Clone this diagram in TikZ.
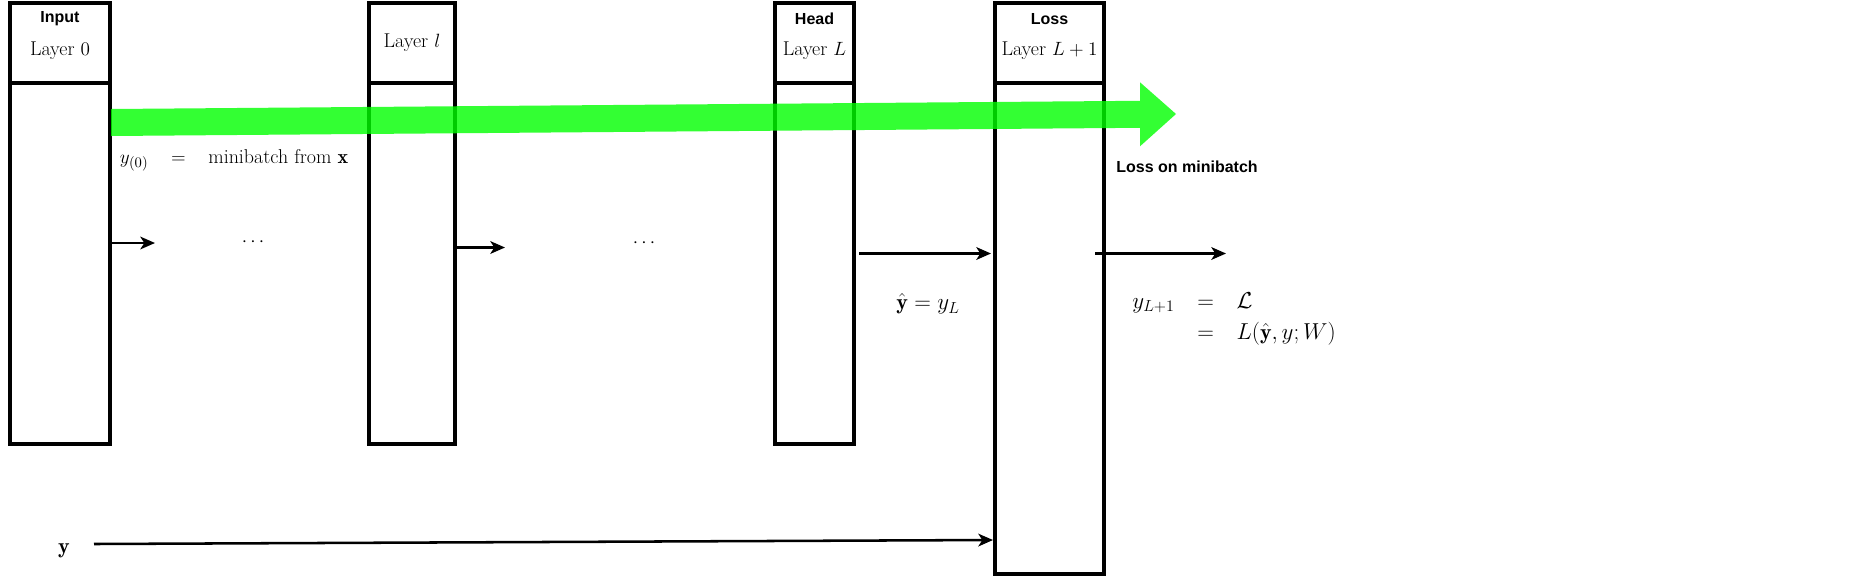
\documentclass[tikz,border=0pt]{standalone}
\usepackage{fontspec}
\newfontfamily\tagfont{Liberation Sans}
\usepackage{xcolor}
\usepackage{tikz}
\usetikzlibrary{positioning, arrows.meta, calc}

\begin{document}
\begin{tikzpicture}[x=0.75pt, y=-0.75pt,
		hdr/.style={rectangle, draw, line width=2.4pt, outer sep=0pt, inner sep=0pt, minimum height=60pt},
		bodybox/.style={rectangle, draw, line width=2.4pt, outer sep=0pt, inner sep=0pt},
		tag/.style={font=\tagfont\bfseries\fontsize{12}{14}\selectfont, inner sep=0pt},
		lyr/.style={font=\fontsize{15}{18}\selectfont, inner sep=0pt},
		mth/.style={font=\fontsize{16.5}{20}\selectfont, inner sep=0pt},
		flow/.style={line width=1.9pt, -{Stealth[length=11pt, width=9.5pt, inset=3pt]}}]
		\useasboundingbox (0,0) rectangle (1866,579);
		\setlength{\arraycolsep}{8.5pt}
		
		% layers
		\node[hdr, minimum width=75pt] (inh) at (60,43) {};
		\node[bodybox, minimum width=75pt, minimum height=270.75pt, below=0pt of inh] (inb) {};
		\node[hdr, minimum width=64.5pt] (lh) at (412,43) {};
		\node[bodybox, minimum width=64.5pt, minimum height=270.75pt, below=0pt of lh] (lb) {};
		\node[hdr, minimum width=59.25pt] (headh) at (814.5,43) {};
		\node[bodybox, minimum width=59.25pt, minimum height=270.75pt, below=0pt of headh] (headb) {};
		\node[hdr, minimum width=81.75pt] (lossh) at (1049.5,43) {};
		\node[bodybox, minimum width=81.75pt, minimum height=368.25pt, below=0pt of lossh] (lossb) {};
		
		\node[tag] (intag) at ($(inh.north)+(0,16)$) {Input};
		\node[lyr] (inlbl) at ($(inh.center)+(0,8)$) {Layer $0$};
		\node[lyr] (llbl) at (lh.center) {Layer $l$};
		\node[tag] (headtag) at ($(headh.north)+(0,16)$) {Head};
		\node[lyr] (headlbl) at ($(headh.center)+(0,8)$) {Layer $L$};
		\node[tag] (losstag) at ($(lossh.north)+(0,16)$) {Loss};
		\node[lyr] (losslbl) at ($(lossh.center)+(0,8)$) {Layer $L+1$};
		
		% forward pass
		\coordinate (gtail) at (111,122.5);
		\coordinate (gbase) at (1140,114.3);
		\coordinate (gtip) at (1176,114);
		\fill[green, fill opacity=0.8] ($(gtail)+(0,-13.5)$) -- ($(gbase)+(0,-13.5)$) -- ($(gbase)+(0,-32)$) -- (gtip) -- ($(gbase)+(0,32)$) -- ($(gbase)+(0,13.5)$) -- ($(gtail)+(0,13.5)$) -- cycle;
		\node[tag] (minib) at (1187,167) {Loss on minibatch};
		
		\coordinate (a0) at (155,243);
		\coordinate (a1) at (505,247.5);
		\coordinate (a2) at (859,253.5);
		\coordinate (a3s) at (1095,253.5);
		\coordinate (a3) at (1226,253.5);
		\draw[flow] (inb.east |- a0) -- (a0);
		\draw[flow] (lb.east |- a1) -- (a1);
		\draw[flow, shorten >=3pt] (a2) -- (lossb.west |- a2);
		\draw[flow] (a3s) -- (a3);
		
		\node[lyr] (dots0) at (253,242) {$\cdots$};
		\node[lyr] (dots1) at (644,243) {$\cdots$};
		
		\node[lyr] (eq0) at (234,159) {$\begin{array}{rcl} y_{(0)} & = & \mbox{minibatch from }\mathbf{x} \end{array}$};
		\node[mth] (eqhat) at (928,304) {$\hat{\mathbf{y}} = y_L$};
		\node[mth] (eqloss) at (1234,318.5) {$\begin{array}{rcl} y_{L+1} & = & \mathcal{L} \\[3pt] & = & L(\hat{\mathbf{y}}, y; W) \end{array}$};
		
		% targets
		\node[mth] (ylab) at (64,551) {$\mathbf{y}$};
		\coordinate (ysrc) at (94,544);
		\coordinate (ytgt) at (993,540);
		\draw[flow] (ysrc) -- (ytgt);
		\end{tikzpicture}
\end{document}
